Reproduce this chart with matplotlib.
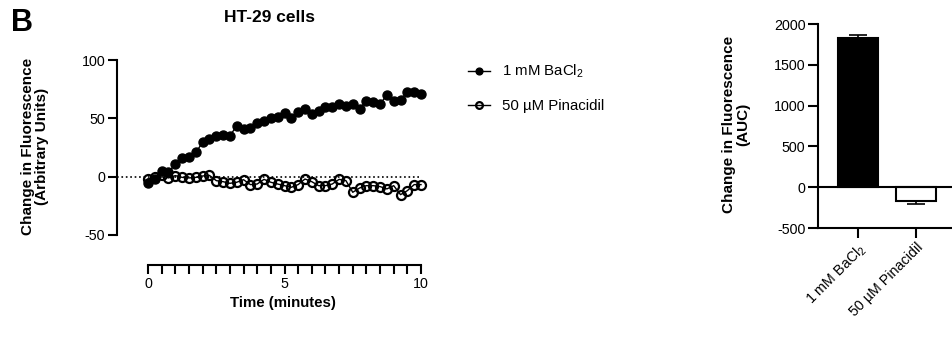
import numpy as np
import matplotlib
matplotlib.use("Agg")
import matplotlib.pyplot as plt
from matplotlib.ticker import FixedLocator

plt.rcParams['font.family'] = ['Liberation Sans', 'DejaVu Sans']
plt.rcParams['mathtext.default'] = 'regular'
plt.rcParams['axes.unicode_minus'] = False

# time course data (minutes, change in fluorescence)
time = np.linspace(0, 10, 41)
bacl2 = [-5.7, -2, 4.6, 3.7, 10.8, 16, 17.1, 20.8, 29.3, 32.2, 35, 35.9, 35,
         43.6, 40.8, 41.6, 46.4, 47.9, 50.7, 51.3, 54.7, 50.1, 55, 57.8, 53.6,
         55.9, 59.8, 59.3, 62.7, 60.4, 62.7, 58.4, 64.9, 64.4, 62.1, 70.1,
         64.9, 65.5, 72.9, 72.4, 70.7]
pinacidil = [-2, 0, 1.7, -1.1, 0.9, -0.6, -1.1, -0.6, 0.6, 1.1, -3.4, -4.3,
             -5.7, -4.8, -2.6, -6.8, -6.3, -2.3, -4.8, -6.3, -7.7, -9.1, -6.8,
             -2, -4.3, -7.7, -7.7, -6.3, -2.3, -3.4, -13.4, -9.7, -7.7, -7.7,
             -8.5, -10.5, -7.7, -15.4, -12, -6.8, -6.8]
series_labels = ['1 mM BaCl$_2$', '50 µM Pinacidil']
x_major = [0, 5, 10]
x_minor = np.linspace(0, 10, 21)

# AUC bar data
auc_labels = ['1 mM BaCl$_2$', '50 µM Pinacidil']
auc = [1834, -172]
auc_err = [37, 28]

lw = 1.5
fig = plt.figure(figsize=(9.53, 3.38), dpi=100)

# ---- time course ----
ax = fig.add_axes([117/953, 1 - 235/338, (421 - 117)/953, (235 - 60)/338])
ax.axhline(0, color='black', ls=':', lw=1.2, zorder=1)
l1, = ax.plot(time, bacl2, color='black', lw=1, marker='o', ms=6.5,
              mfc='black', mec='black', clip_on=False, zorder=3)
l2, = ax.plot(time, pinacidil, color='black', lw=1, marker='o', ms=6.5,
              mfc='none', mec='black', mew=1.6, clip_on=False, zorder=3)
ax.set_xlim(-31/27.3, 10)
ax.set_ylim(-50, 100)
ax.set_yticks([-50, 0, 50, 100])
ax.xaxis.set_major_locator(FixedLocator(x_major))
ax.xaxis.set_minor_locator(FixedLocator(x_minor))
ax.spines[['top', 'right']].set_visible(False)
ax.spines['bottom'].set_position(('outward', 21.6))
ax.spines['bottom'].set_bounds(0, 10)
for s in ['left', 'bottom']:
    ax.spines[s].set_linewidth(lw)
ax.tick_params(which='both', length=6.5, width=lw, labelsize=10.3, pad=2)

fig.text(35/953, 1 - 146/338, 'Change in Fluorescence\n(Arbitrary Units)',
         rotation=90, ha='center', va='center', fontsize=11,
         fontweight='bold', multialignment='center', linespacing=1.05)
fig.text(283/953, 1 - 303/338, 'Time (minutes)', ha='center', va='center',
         fontsize=10.8, fontweight='bold')
fig.text(270/953, 1 - 18/338, 'HT-29 cells', ha='center', va='center',
         fontsize=12.5, fontweight='bold')
fig.text(11/953, 1 - 8/338, 'B', ha='left', va='top', fontsize=22,
         fontweight='bold')

fig.legend([l1, l2], series_labels, loc='upper left',
           bbox_to_anchor=(468/953, 1 - 63/338), frameon=False,
           fontsize=10.8, handlelength=1.5, handletextpad=0.8,
           labelspacing=1.25, borderpad=0, borderaxespad=0, markerscale=0.75)

# ---- AUC bars ----
bx = fig.add_axes([818/953, 1 - 228/338, (953 - 818)/953, (228 - 24)/338])
pos = np.arange(len(auc))
lower = [e if v < 0 else 0 for v, e in zip(auc, auc_err)]
upper = [e if v >= 0 else 0 for v, e in zip(auc, auc_err)]
bx.bar(pos, auc, width=0.69, color=['black', 'white'], edgecolor='black',
       linewidth=lw, zorder=2)
bx.errorbar(pos, auc, yerr=[lower, upper], fmt='none', ecolor='black',
            elinewidth=1.2, capsize=6.5, capthick=1.2, zorder=3)
bx.axhline(0, color='black', lw=lw, zorder=4)
bx.set_xlim(-0.69, 1.64)
bx.set_ylim(-500, 2000)
bx.set_yticks([-500, 0, 500, 1000, 1500, 2000])
bx.set_xticks(pos)
bx.set_xticklabels(auc_labels, rotation=45, ha='right',
                   rotation_mode='anchor')
bx.spines[['top', 'right']].set_visible(False)
for s in ['left', 'bottom']:
    bx.spines[s].set_linewidth(lw)
bx.tick_params(length=7, width=lw, labelsize=10.3, pad=2)
fig.text(736/953, 1 - 124/338, 'Change in Fluorescence\n(AUC)',
         rotation=90, ha='center', va='center', fontsize=11,
         fontweight='bold', multialignment='center', linespacing=1.05)

fig.savefig('out.png', dpi=100)
